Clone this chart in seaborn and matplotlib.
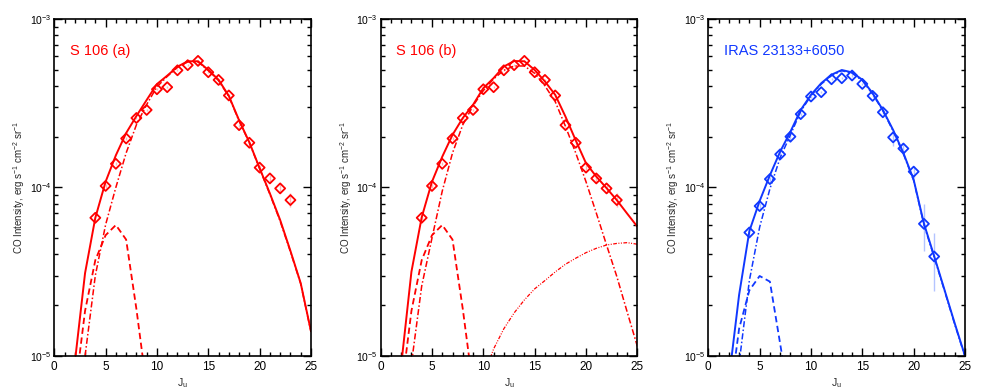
import numpy as np
import pandas as pd
import matplotlib
matplotlib.use("Agg")
import matplotlib.pyplot as plt
from matplotlib.ticker import LogLocator, MultipleLocator, NullFormatter
import seaborn as sns

# observed line intensities
j_obs = list(range(4, 24))
s106_obs = [6.6e-5, 1.02e-4, 1.38e-4, 1.95e-4, 2.58e-4, 2.88e-4, 3.82e-4, 3.93e-4, 4.95e-4, 5.31e-4,
            5.63e-4, 4.82e-4, 4.34e-4, 3.51e-4, 2.34e-4, 1.84e-4, 1.31e-4, 1.13e-4, 9.86e-5, 8.41e-5]
s106_err = [2e-6, 3e-6, 3e-6, 4e-6, 4e-6, 4e-6, 5e-6, 5e-6, 6e-6, 6e-6,
            6e-6, 6e-6, 6e-6, 6e-6, 5e-6, 5e-6, 4e-6, 5e-6, 6e-6, 8e-6]

j_obs_iras = list(range(4, 23))
iras_obs = [5.4e-5, 7.75e-5, 1.12e-4, 1.57e-4, 2.0e-4, 2.72e-4, 3.46e-4, 3.67e-4, 4.38e-4, 4.44e-4,
            4.61e-4, 4.11e-4, 3.49e-4, 2.79e-4, 1.98e-4, 1.70e-4, 1.24e-4, 6.08e-5, 3.89e-5]
iras_err = [3e-6, 3e-6, 4e-6, 5e-6, 1.5e-5, 6e-6, 6e-6, 6e-6, 7e-6, 7e-6,
            7e-6, 7e-6, 7e-6, 7e-6, 2.2e-5, 1.4e-5, 1.0e-5, 1.9e-5, 1.45e-5]

# model curves
j_tot = list(range(2, 26))
s106a_total = [9.1e-6, 3.1e-5, 6.6e-5, 1.08e-4, 1.55e-4, 2.1e-4, 2.65e-4, 3.3e-4, 4.1e-4, 4.6e-4,
               5.2e-4, 5.6e-4, 5.6e-4, 4.97e-4, 4.35e-4, 3.49e-4, 2.5e-4, 1.85e-4, 1.3e-4, 9.2e-5,
               6.4e-5, 4.2e-5, 2.7e-5, 1.4e-5]
s106b_total = [8.8e-6, 3.16e-5, 6.65e-5, 1.08e-4, 1.52e-4, 2.05e-4, 2.58e-4, 3.09e-4, 3.88e-4, 4.45e-4,
               5.21e-4, 5.62e-4, 5.6e-4, 4.97e-4, 4.25e-4, 3.54e-4, 2.63e-4, 1.9e-4, 1.39e-4, 1.16e-4,
               9.9e-5, 8.4e-5, 7.0e-5, 5.85e-5]
iras_total = [7.2e-6, 2.3e-5, 5.5e-5, 8.3e-5, 1.18e-4, 1.63e-4, 2.14e-4, 2.88e-4, 3.54e-4, 4.15e-4,
              4.66e-4, 4.97e-4, 4.81e-4, 4.35e-4, 3.62e-4, 2.88e-4, 2.19e-4, 1.6e-4, 1.11e-4, 6.1e-5,
              3.9e-5, 2.47e-5, 1.56e-5, 1.0e-5]

j_cold = list(range(2, 10))
s106_cold = [6e-6, 1.85e-5, 3.7e-5, 5.2e-5, 5.98e-5, 4.9e-5, 1.9e-5, 6.5e-6]
j_cold_iras = list(range(2, 9))
iras_cold = [5e-6, 1.45e-5, 2.45e-5, 2.98e-5, 2.76e-5, 1.18e-5, 5e-6]

j_warm = list(range(3, 26))
s106a_warm = [1.0e-5, 3.0e-5, 6.0e-5, 1.0e-4, 1.6e-4, 2.35e-4, 3.1e-4, 3.95e-4, 4.55e-4, 5.15e-4,
              5.55e-4, 5.55e-4, 4.93e-4, 4.3e-4, 3.46e-4, 2.48e-4, 1.84e-4, 1.29e-4, 9.1e-5, 6.3e-5,
              4.15e-5, 2.68e-5, 1.39e-5]
s106b_warm = [9e-6, 2.6e-5, 5.0e-5, 9.5e-5, 1.6e-4, 2.35e-4, 3.05e-4, 3.75e-4, 4.4e-4, 4.95e-4,
              5.25e-4, 5.25e-4, 4.75e-4, 4.0e-4, 3.23e-4, 2.3e-4, 1.6e-4, 1.08e-4, 7.05e-5, 4.55e-5,
              2.96e-5, 1.83e-5, 1.14e-5]
iras_warm = [9e-6, 2.8e-5, 5.8e-5, 9.8e-5, 1.5e-4, 2.05e-4, 2.82e-4, 3.5e-4, 4.1e-4, 4.6e-4,
             4.92e-4, 4.76e-4, 4.3e-4, 3.58e-4, 2.85e-4, 2.16e-4, 1.58e-4, 1.1e-4, 6.0e-5, 3.85e-5,
             2.44e-5, 1.54e-5, 9.9e-6]

j_hot = list(range(10, 26))
s106b_hot = [7.5e-6, 1.1e-5, 1.45e-5, 1.8e-5, 2.15e-5, 2.5e-5, 2.8e-5, 3.15e-5, 3.5e-5, 3.8e-5,
             4.1e-5, 4.35e-5, 4.55e-5, 4.65e-5, 4.7e-5, 4.6e-5]

RED = "#ff0000"
RED_LIGHT = "#ffb4b4"
BLUE = "#1038ff"
BLUE_LIGHT = "#b4c4ff"

sns.set_style("ticks")
plt.rcParams["font.family"] = ["Liberation Sans", "DejaVu Sans"]
plt.rcParams["mathtext.fontset"] = "custom"
plt.rcParams["mathtext.rm"] = "Liberation Sans"
plt.rcParams["mathtext.it"] = "Liberation Sans:italic"
plt.rcParams["mathtext.default"] = "regular"

DASHDOT = (0, (4, 1.5, 1, 1.5))
DASH3DOT = (0, (3, 1.2, 0.8, 1.2, 0.8, 1.2))


def draw_line(ax, j, vals, color, ls, lw=1.3):
    df = pd.DataFrame({"J": j, "I": vals})
    sns.lineplot(data=df, x="J", y="I", ax=ax, color=color, linestyle=ls, lw=lw,
                 estimator=None, sort=False)


def draw_panel(ax, label, color, light, jo, obs, err, curves):
    for j, vals, ls, lw in curves:
        draw_line(ax, j, vals, color, ls, lw)
    ax.errorbar(jo, obs, yerr=err, fmt="none", ecolor=light, elinewidth=1.0, zorder=1)
    sns.scatterplot(x=jo, y=obs, ax=ax, marker="D", s=26, facecolor="none",
                    edgecolor=color, linewidth=1.3, zorder=3)
    ax.set_yscale("log")
    ax.set_xlim(0, 25)
    ax.set_ylim(1e-5, 1e-3)
    ax.xaxis.set_major_locator(MultipleLocator(5))
    ax.xaxis.set_minor_locator(MultipleLocator(1))
    ax.yaxis.set_major_locator(LogLocator(base=10))
    ax.yaxis.set_minor_locator(LogLocator(base=10, subs=np.arange(2, 10)))
    ax.yaxis.set_minor_formatter(NullFormatter())
    ax.tick_params(which="both", direction="in", top=True, right=True, width=1.0,
                   colors="black")
    ax.tick_params(which="major", length=6)
    ax.tick_params(which="minor", length=3)
    ax.tick_params(axis="x", labelsize=8.5, pad=4)
    ax.tick_params(axis="y", labelsize=7.5, pad=2)
    for sp in ax.spines.values():
        sp.set_linewidth(1.2)
        sp.set_color("black")
    ax.set_xlabel("J$_u$", fontsize=7.5, labelpad=2)
    ax.set_ylabel("CO Intensity, erg s$^{-1}$ cm$^{-2}$ sr$^{-1}$", fontsize=7)
    ax.yaxis.set_label_coords(-0.105, 0.5)
    ax.text(0.061, 0.905, label, transform=ax.transAxes, color=color, fontsize=10.5,
            va="center", ha="left")


fig = plt.figure(figsize=(9.81, 3.92), dpi=100)
lefts = [0.0553, 0.388, 0.722]
axes = [fig.add_axes([l, 0.092, 0.2617, 0.860]) for l in lefts]

draw_panel(axes[0], "S 106 (a)", RED, RED_LIGHT, j_obs, s106_obs, s106_err,
           [(j_tot, s106a_total, "-", 1.4),
            (j_cold, s106_cold, (0, (3.5, 2)), 1.3),
            (j_warm, s106a_warm, DASHDOT, 1.1)])
draw_panel(axes[1], "S 106 (b)", RED, RED_LIGHT, j_obs, s106_obs, s106_err,
           [(j_tot, s106b_total, "-", 1.4),
            (j_cold, s106_cold, (0, (3.5, 2)), 1.3),
            (j_warm, s106b_warm, DASHDOT, 1.1),
            (j_hot, s106b_hot, DASH3DOT, 0.9)])
draw_panel(axes[2], "IRAS 23133+6050", BLUE, BLUE_LIGHT, j_obs_iras, iras_obs, iras_err,
           [(j_tot, iras_total, "-", 1.4),
            (j_cold_iras, iras_cold, (0, (3.5, 2)), 1.3),
            (j_warm, iras_warm, DASHDOT, 1.1)])

fig.savefig("out.png", dpi=100)
